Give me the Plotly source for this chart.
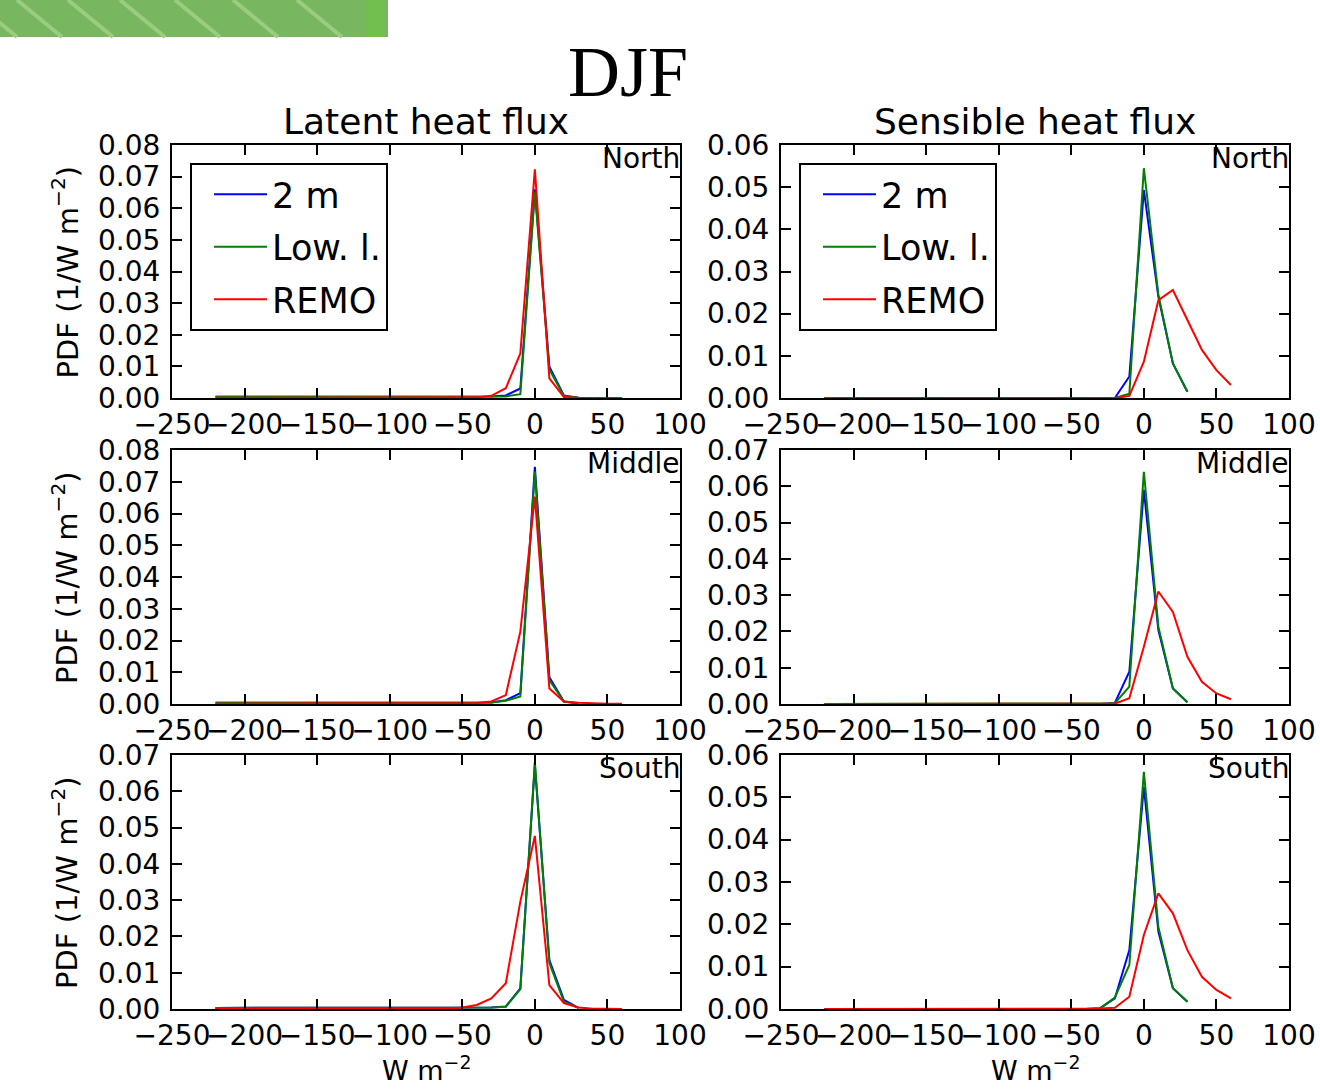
import plotly.graph_objects as go

W, H = 1320, 1089

# ---------------- data ----------------
bins_obs = [-220, -210, -200, -190, -180, -170, -160, -150, -140, -130, -120, -110, -100,
            -90, -80, -70, -60, -50, -40, -30, -20, -10, 0, 10, 20, 30]
bins_remo = [-220, -210, -200, -190, -180, -170, -160, -150, -140, -130, -120, -110, -100,
             -90, -80, -70, -60, -50, -40, -30, -20, -10, 0, 10, 20, 30, 40, 50, 60]

series_names = ["2 m", "Low. l.", "REMO"]
series_colors = ["#0000ff", "#008000", "#ff0000"]

# Latent heat flux
lat_north_2m = [0.0004, 0.0004, 0.0004, 0.0004, 0.0004, 0.0004, 0.0004, 0.0004, 0.0004, 0.0004,
                0.0004, 0.0004, 0.0004, 0.0004, 0.0004, 0.0004, 0.0004, 0.0004, 0.0004, 0.0005,
                0.0008, 0.0030, 0.0660, 0.0099, 0.0008, 0.0001]
lat_north_low = [0.0004, 0.0004, 0.0004, 0.0004, 0.0004, 0.0004, 0.0004, 0.0004, 0.0004, 0.0004,
                 0.0004, 0.0004, 0.0004, 0.0004, 0.0004, 0.0004, 0.0004, 0.0004, 0.0004, 0.0004,
                 0.0005, 0.0012, 0.0650, 0.0090, 0.0006, 0.0001]
lat_north_remo = [0.0001, 0.0001, 0.0001, 0.0001, 0.0001, 0.0001, 0.0001, 0.0001, 0.0001, 0.0001,
                  0.0001, 0.0001, 0.0001, 0.0001, 0.0001, 0.0001, 0.0001, 0.0001, 0.0002, 0.0007,
                  0.0031, 0.0141, 0.0723, 0.0062, 0.0003, 0.0001, 0.0000, 0.0000, 0.0000]

lat_middle_2m = [0.0004, 0.0004, 0.0004, 0.0004, 0.0004, 0.0004, 0.0004, 0.0004, 0.0004, 0.0004,
                 0.0004, 0.0004, 0.0004, 0.0004, 0.0004, 0.0004, 0.0004, 0.0004, 0.0004, 0.0005,
                 0.0012, 0.0034, 0.0747, 0.0084, 0.0008, 0.0002]
lat_middle_low = [0.0004, 0.0004, 0.0004, 0.0004, 0.0004, 0.0004, 0.0004, 0.0004, 0.0004, 0.0004,
                  0.0004, 0.0004, 0.0004, 0.0004, 0.0004, 0.0004, 0.0004, 0.0004, 0.0004, 0.0005,
                  0.0010, 0.0024, 0.0732, 0.0075, 0.0008, 0.0002]
lat_middle_remo = [0.0001, 0.0001, 0.0001, 0.0001, 0.0001, 0.0001, 0.0001, 0.0001, 0.0001, 0.0001,
                   0.0001, 0.0001, 0.0001, 0.0001, 0.0001, 0.0001, 0.0001, 0.0002, 0.0003, 0.0008,
                   0.0028, 0.0228, 0.0653, 0.0049, 0.0008, 0.0004, 0.0002, 0.0001, 0.0001]

lat_south_2m = [0.0003, 0.0003, 0.0003, 0.0003, 0.0003, 0.0003, 0.0003, 0.0003, 0.0003, 0.0003,
                0.0003, 0.0003, 0.0003, 0.0003, 0.0003, 0.0003, 0.0003, 0.0003, 0.0003, 0.0004,
                0.0007, 0.0057, 0.0672, 0.0135, 0.0025, 0.0003]
lat_south_low = [0.0003, 0.0003, 0.0003, 0.0003, 0.0003, 0.0003, 0.0003, 0.0003, 0.0003, 0.0003,
                 0.0003, 0.0003, 0.0003, 0.0003, 0.0003, 0.0003, 0.0003, 0.0003, 0.0003, 0.0004,
                 0.0006, 0.0055, 0.0681, 0.0127, 0.0020, 0.0003]
lat_south_remo = [0.0001, 0.0001, 0.0001, 0.0001, 0.0001, 0.0001, 0.0001, 0.0001, 0.0001, 0.0001,
                  0.0001, 0.0001, 0.0001, 0.0001, 0.0001, 0.0001, 0.0001, 0.0004, 0.0011, 0.0029,
                  0.0071, 0.0296, 0.0477, 0.0066, 0.0016, 0.0004, 0.0001, 0.0001, 0.0000]

# Sensible heat flux
sen_north_2m = [0.0, 0.0, 0.0, 0.0, 0.0, 0.0, 0.0, 0.0, 0.0, 0.0, 0.0, 0.0, 0.0,
                0.0, 0.0, 0.0, 0.0, 0.0, 0.0, 0.0, 0.0, 0.0051, 0.0493, 0.0240, 0.0082, 0.0015]
sen_north_low = [0.0, 0.0, 0.0, 0.0, 0.0, 0.0, 0.0, 0.0, 0.0, 0.0, 0.0, 0.0, 0.0,
                 0.0, 0.0, 0.0, 0.0, 0.0, 0.0, 0.0, 0.0, 0.0010, 0.0545, 0.0245, 0.0082, 0.0015]
sen_north_remo = [0.0, 0.0, 0.0, 0.0, 0.0, 0.0, 0.0, 0.0, 0.0, 0.0, 0.0, 0.0, 0.0,
                  0.0, 0.0, 0.0, 0.0, 0.0, 0.0, 0.0, 0.0, 0.0005, 0.0086, 0.0232, 0.0256,
                  0.0185, 0.0114, 0.0066, 0.0031]

sen_middle_2m = [0.0, 0.0, 0.0, 0.0, 0.0, 0.0, 0.0, 0.0, 0.0, 0.0, 0.0, 0.0, 0.0,
                 0.0, 0.0, 0.0, 0.0, 0.0, 0.0, 0.0, 0.0003, 0.0089, 0.0590, 0.0204, 0.0043, 0.0005]
sen_middle_low = [0.0, 0.0, 0.0, 0.0, 0.0, 0.0, 0.0, 0.0, 0.0, 0.0, 0.0, 0.0, 0.0,
                  0.0, 0.0, 0.0, 0.0, 0.0, 0.0, 0.0, 0.0002, 0.0048, 0.0640, 0.0213, 0.0043, 0.0005]
sen_middle_remo = [0.0, 0.0, 0.0, 0.0, 0.0, 0.0, 0.0, 0.0, 0.0, 0.0, 0.0, 0.0, 0.0,
                   0.0, 0.0, 0.0, 0.0, 0.0, 0.0, 0.0, 0.0001, 0.0016, 0.0158, 0.0310, 0.0254,
                   0.0130, 0.0061, 0.0029, 0.0013]

sen_south_2m = [0.0, 0.0, 0.0, 0.0, 0.0, 0.0, 0.0, 0.0, 0.0, 0.0, 0.0, 0.0, 0.0,
                0.0, 0.0, 0.0, 0.0, 0.0, 0.0, 0.0002, 0.0025, 0.0139, 0.0525, 0.0183, 0.0049, 0.0017]
sen_south_low = [0.0, 0.0, 0.0, 0.0, 0.0, 0.0, 0.0, 0.0, 0.0, 0.0, 0.0, 0.0, 0.0,
                 0.0, 0.0, 0.0, 0.0, 0.0, 0.0, 0.0002, 0.0027, 0.0104, 0.0560, 0.0194, 0.0049, 0.0017]
sen_south_remo = [0.0, 0.0, 0.0, 0.0, 0.0, 0.0, 0.0, 0.0, 0.0, 0.0, 0.0, 0.0, 0.0,
                  0.0, 0.0, 0.0, 0.0, 0.0, 0.0, 0.0001, 0.0003, 0.0029, 0.0175, 0.0273, 0.0226,
                  0.0139, 0.0076, 0.0045, 0.0025]

region_labels = ["North", "Middle", "South"]
column_titles = ["Latent heat flux", "Sensible heat flux"]
x_ticks = [-250, -200, -150, -100, -50, 0, 50, 100]
y_max = {(1, 1): 0.08, (1, 2): 0.06, (2, 1): 0.08, (2, 2): 0.07, (3, 1): 0.07, (3, 2): 0.06}

panels = {
    (1, 1): (lat_north_2m, lat_north_low, lat_north_remo),
    (2, 1): (lat_middle_2m, lat_middle_low, lat_middle_remo),
    (3, 1): (lat_south_2m, lat_south_low, lat_south_remo),
    (1, 2): (sen_north_2m, sen_north_low, sen_north_remo),
    (2, 2): (sen_middle_2m, sen_middle_low, sen_middle_remo),
    (3, 2): (sen_south_2m, sen_south_low, sen_south_remo),
}

# ---------------- layout geometry (pixels) ----------------
col_px = {1: (172, 680), 2: (781, 1289)}
row_px = {1: (145, 398), 2: (450, 704), 3: (755, 1009)}

FONT = "DejaVu Sans"
fig = go.Figure()
layout = dict(
    template="none",
    width=W, height=H,
    margin=dict(l=0, r=0, t=0, b=0, pad=0, autoexpand=False),
    paper_bgcolor="white", plot_bgcolor="white",
    font=dict(family=FONT, color="black", size=26),
    showlegend=True,
)

annotations = []
for (r, c), (s2m, slow, sremo) in panels.items():
    i = (r - 1) * 2 + c
    xa = "x" if i == 1 else f"x{i}"
    ya = "y" if i == 1 else f"y{i}"
    leg = "legend" if c == 1 else "legend2"
    for name, color, xs, ys in zip(series_names, series_colors,
                                   [bins_obs, bins_obs, bins_remo], [s2m, slow, sremo]):
        fig.add_trace(go.Scatter(
            x=xs, y=ys, mode="lines", name=name,
            line=dict(color=color, width=2),
            xaxis=xa, yaxis=ya,
            showlegend=(r == 1), legend=leg, legendgroup=f"{leg}-{name}",
        ))
    x0, x1 = col_px[c]
    t, b = row_px[r]
    common = dict(showline=True, linecolor="black", linewidth=2, mirror="allticks",
                  ticks="inside", ticklen=10, tickwidth=1.5, tickcolor="black",
                  showgrid=False, zeroline=False, automargin=False,
                  tickfont=dict(family=FONT, size=28, color="black"))
    layout[f"xaxis{'' if i == 1 else i}"] = dict(
        domain=[x0 / W, x1 / W], range=[-250, 100], tickvals=x_ticks, tickangle=0,
        anchor=ya, ticklabelstandoff=0, **common)
    layout[f"yaxis{'' if i == 1 else i}"] = dict(
        domain=[1 - b / H, 1 - t / H], range=[0, y_max[(r, c)]], dtick=0.01, tick0=0,
        tickformat=".2f", anchor=xa, ticklabelstandoff=4, **common)
    annotations.append(dict(
        text=region_labels[r - 1], xref=f"{xa} domain", yref=f"{ya} domain",
        x=1, y=1, xanchor="right", yanchor="top", showarrow=False,
        font=dict(family=FONT, size=28, color="black"), yshift=5, xshift=2))
    if c == 1:
        annotations.append(dict(
            text="PDF (1/W m<sup>−2</sup>)", xref="paper", yref="paper",
            x=65 / W, y=1 - (t + b + 2) / 2 / H, textangle=-90, showarrow=False,
            xanchor="center", yanchor="middle",
            font=dict(family=FONT, size=29, color="black")))
    if r == 3:
        annotations.append(dict(
            text="W m<sup>−2</sup>", xref="paper", yref="paper",
            x=(x0 + x1) / 2 / W, y=1 - 1068 / H, showarrow=False,
            xanchor="center", yanchor="middle",
            font=dict(family=FONT, size=27, color="black")))
    if r == 1:
        annotations.append(dict(
            text=column_titles[c - 1], xref="paper", yref="paper",
            x=(x0 + x1) / 2 / W, y=1 - 121 / H, showarrow=False,
            xanchor="center", yanchor="middle",
            font=dict(family=FONT, size=36, color="black")))

annotations.append(dict(
    text="DJF", xref="paper", yref="paper", x=628 / W, y=1 - 72 / H,
    showarrow=False, xanchor="center", yanchor="middle",
    font=dict(family="Liberation Serif", size=72, color="black")))

leg_common = dict(xanchor="left", yanchor="top", bgcolor="white", bordercolor="black",
                  borderwidth=2, font=dict(family=FONT, size=35, color="black"),
                  itemwidth=53, indentation=17, tracegroupgap=4,
                  entrywidth=155, entrywidthmode="pixels")
layout["legend"] = dict(x=190 / W, y=1 - 163 / H, **leg_common)
layout["legend2"] = dict(x=799 / W, y=1 - 163 / H, **leg_common)

# decorative green banner (top-left)
shapes = [dict(type="rect", xref="paper", yref="paper", x0=0, x1=388 / W,
               y0=1 - 37 / H, y1=1, fillcolor="#79b660", line=dict(width=0), layer="below"),
          dict(type="rect", xref="paper", yref="paper", x0=366 / W, x1=384 / W,
               y0=1 - 37 / H, y1=1, fillcolor="#72bf50", line=dict(width=0), layer="below")]
for s in [-28, 17, 68, 120, 175, 233, 297]:
    xe = min(s + 45, 366)
    ye = 37 * (xe - s) / 45
    shapes.append(dict(type="line", xref="paper", yref="paper", x0=s / W, y0=1,
                       x1=xe / W, y1=1 - ye / H, line=dict(color="#9acd80", width=4),
                       layer="below"))
layout["shapes"] = shapes
layout["annotations"] = annotations

fig.update_layout(**layout)
fig.write_html("out.html")
